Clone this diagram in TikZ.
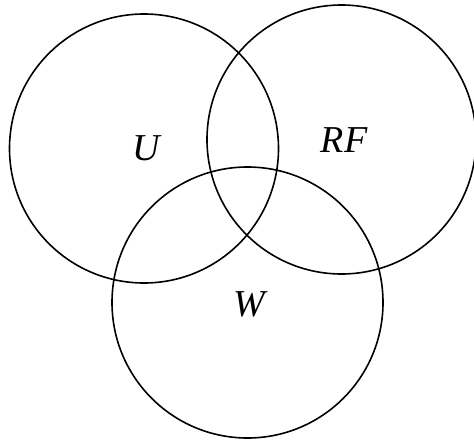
\documentclass[tikz,border=0pt]{standalone}
\usepackage{fontspec}
\setmainfont{Liberation Serif}
\begin{document}
\begin{tikzpicture}[x=1pt,y=-1pt,
  setcirc/.style={draw=black,line width=1.6pt},
  setlabel/.style={font=\fontsize{38}{40}\selectfont\itshape,inner sep=0pt}]
\useasboundingbox (0,0) rectangle (474,442);
\node[setcirc,circle,minimum size=269pt,inner sep=0pt] (cu) at (144,148.5) {};
\node[setcirc,circle,minimum size=269pt,inner sep=0pt] (crf) at (341.5,139.5) {};
\node[setcirc,circle,minimum size=271pt,inner sep=0pt] (cw) at (247.5,302.5) {};
\node[setlabel] (lu) at (146,148) {U};
\node[setlabel] (lrf) at (344,140) {RF};
\node[setlabel] (lw) at (249,304) {W};
\end{tikzpicture}
\end{document}
